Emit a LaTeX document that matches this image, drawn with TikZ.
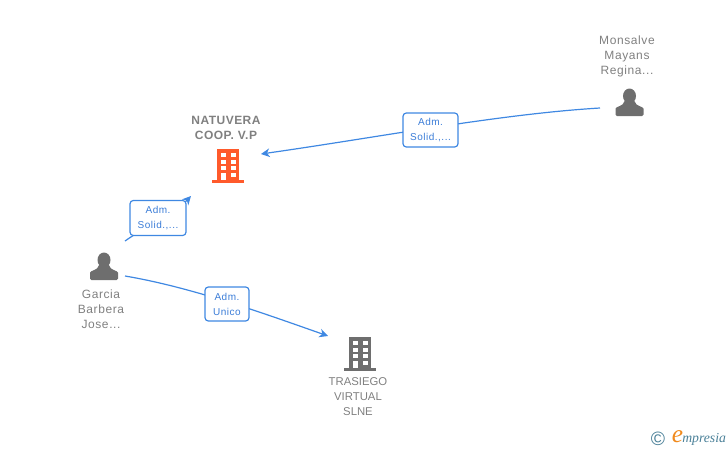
\documentclass[tikz,border=0pt]{standalone}
\usepackage{fontspec}
\setmainfont{Liberation Sans}
\newfontfamily\logofont{Liberation Serif}
\usetikzlibrary{arrows.meta,calc}
\definecolor{icongray}{HTML}{6E6E6E}
\definecolor{textgray}{HTML}{808080}
\definecolor{linkblue}{HTML}{3F88E2}
\definecolor{labelblue}{HTML}{3B7DD8}
\definecolor{hotorange}{HTML}{FF5A2B}
\definecolor{logoteal}{HTML}{4A8098}
\definecolor{logoorange}{HTML}{F08A1D}
\tikzset{
  x=0.75pt,y=-0.75pt,
  anchorbox/.style={inner sep=0pt,outer sep=0pt,minimum width=#1},
  caption/.style={text=textgray,align=center,inner sep=0pt,font=\addfontfeatures{LetterSpace=5}\fontsize{9}{11.25}\selectfont},
  edgebox/.style={draw=linkblue,line width=0.9pt,rounded corners=2.5pt,fill=white,text=labelblue,
    align=center,inner sep=0pt,font=\addfontfeatures{LetterSpace=5}\fontsize{7.5}{11.25}\selectfont},
  link/.style={draw=linkblue,line width=0.9pt,-{Stealth[length=6.5pt,width=6.5pt,inset=2pt]}},
  person/.pic={
    \fill[icongray] (0,-6.5) ellipse[x radius=6.5,y radius=7.5];
    \fill[icongray,rounded corners=1pt] (-14,13.5) -- (-14,7.5)
      .. controls (-14,4) and (-5.5,3.5) .. (-5.5,-2) -- (5.5,-2)
      .. controls (5.5,3.5) and (14,4) .. (14,7.5) -- (14,13.5) -- cycle;
  },
  building/.pic={
    \fill[#1] (-11,0) rectangle (11,31);
    \fill[#1] (-16,31) rectangle (16,34);
    \foreach \yy in {4,10.5,17}{
      \fill[white] (-7,\yy) rectangle (-2,\yy+4);
      \fill[white] (3,\yy) rectangle (8,\yy+4);
    }
    \fill[white] (-7,24) rectangle (-2,31);
    \fill[white] (3,24) rectangle (8,28);
  },
}
\begin{document}
\begin{tikzpicture}
\useasboundingbox (0,0) rectangle (728,450);

% icons
\pic at (104,266.5) {person};
\pic at (629.5,102.5) {person};
\pic at (228,149) {building=hotorange};
\pic at (360,337) {building=icongray};

% invisible anchors around the icons
\node[anchorbox=31.5pt,minimum height=37.5pt] (garcia) at (104,266) {};
\node[anchorbox=44.25pt,minimum height=22.5pt] (monsalve) at (629.5,103) {};
\node[anchorbox=52.5pt,minimum height=45pt] (natuvera) at (226,166) {};
\node[anchorbox=48pt,minimum height=25.5pt] (trasiego) at (360,353) {};

% connectors
\draw[link] ([yshift=-3.75pt]monsalve.west) .. controls (500,114) and (380,137) .. ([yshift=9pt]natuvera.east);
\draw[link] (garcia.north east) .. controls (148,225) and (178,210) .. (natuvera.south west);
\draw[link] ([yshift=-7.5pt]garcia.east) .. controls (190,287) and (260,312) .. (trasiego.north west);

% connector labels
\node[edgebox,minimum width=41.25pt,minimum height=25.5pt] (lab1) at (430.5,130) {Adm.\\Solid.,...};
\node[edgebox,minimum width=42pt,minimum height=26.25pt] (lab2) at (158,218) {Adm.\\Solid.,...};
\node[edgebox,minimum width=33pt,minimum height=25.5pt] (lab3) at (227,304) {Adm.\\Unico};

% captions
\node[caption,font=\addfontfeatures{LetterSpace=4}\fontsize{9}{11.25}\selectfont\bfseries] (natcap) at (226,127.5) {NATUVERA\\COOP. V.P};
\node[caption] (moncap) at (627,56.5) {Monsalve\\Mayans\\Regina...};
\node[caption] (garcap) at (101,309) {Garcia\\Barbera\\Jose...};
\node[caption,font=\fontsize{8.5}{11.25}\selectfont] (tracap) at (358,396.5) {TRASIEGO\\VIRTUAL\\SLNE};

% logo
\node[text=logoteal,inner sep=0pt,font=\fontsize{14.5}{15}\selectfont] (logoc) at (658,438.5) {©};
\node[text=logoorange,inner sep=0pt,font=\logofont\itshape\fontsize{19}{19}\selectfont] (logoe) at (677.5,437) {e};
\node[text=logoteal,inner sep=0pt,anchor=west,font=\logofont\itshape\fontsize{10.3}{11}\selectfont] (logot) at (682,439) {mpresia};
\end{tikzpicture}
\end{document}
